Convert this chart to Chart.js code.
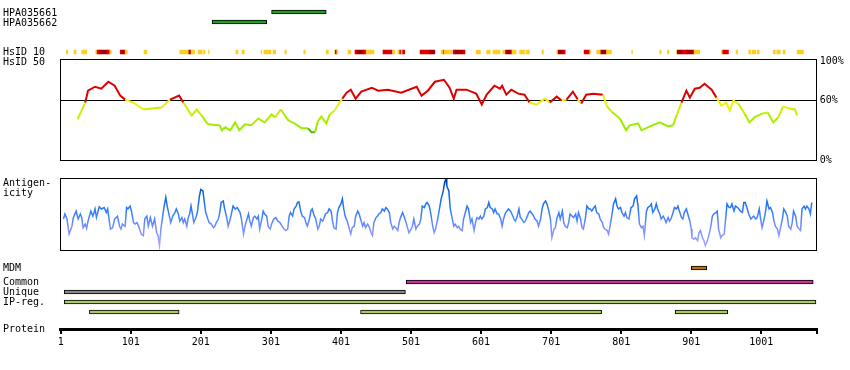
<!DOCTYPE html>
<html>
<head>
<meta charset="utf-8">
<script src="https://cdn.jsdelivr.net/npm/chart.js"></script>
<style>
body { margin: 0; background: #fff; }
#wrap { position: relative; width: 850px; height: 370px; overflow: hidden; }
#wrap canvas { position: absolute; left: 0; }
.lbl { position: absolute; left: 3px; font: 10px 'DejaVu Sans Mono', monospace; line-height: 10px; color: #000; white-space: nowrap; }
</style>
</head>
<body>
<div id="wrap">
  <canvas id="cHpa" width="850" height="20" style="top:7px"></canvas>
  <canvas id="cId10" width="850" height="10" style="top:47px"></canvas>
  <canvas id="cId50" width="850" height="120" style="top:50px"></canvas>
  <canvas id="cAnt" width="850" height="90" style="top:170px"></canvas>
  <canvas id="cMdm" width="850" height="12" style="top:262px"></canvas>
  <canvas id="cTracks" width="850" height="40" style="top:277px"></canvas>
  <canvas id="cAxis" width="850" height="50" style="top:320px"></canvas>

  <div class="lbl" style="top:8px">HPA035661</div>
  <div class="lbl" style="top:18px">HPA035662</div>
  <div class="lbl" style="top:47px">HsID 10</div>
  <div class="lbl" style="top:57px">HsID 50</div>
  <div class="lbl" style="top:178px">Antigen-<br>icity</div>
  <div class="lbl" style="top:263px">MDM</div>
  <div class="lbl" style="top:277px">Common</div>
  <div class="lbl" style="top:287px">Unique</div>
  <div class="lbl" style="top:297px">IP-reg.</div>
  <div class="lbl" style="top:324px">Protein</div>
</div>

<script>
// protein axis
const proteinLength = 1080;
const proteinTicks = [1, 101, 201, 301, 401, 501, 601, 701, 801, 901, 1001];

// antibodies (HPA) : start / end on the protein
const hpaNames = ['HPA035661', 'HPA035662'];
const hpaStart = [302, 217];
const hpaEnd = [380, 295];

// HsID 10 : segments, level 1 = yellow, 2 = red, 3 = dark red
const id10Start = [9, 20, 31, 51, 53, 57, 67, 71, 86, 89, 93, 120, 171, 184, 187, 197, 205, 212, 251, 260,
  287, 291, 304, 321, 348, 380, 392, 393, 395, 411, 421, 424, 433, 437, 461, 475, 482, 485, 487, 489,
  514, 528, 544, 547, 548, 561, 564, 575, 594, 609, 618, 632, 636, 645, 656, 665, 688, 709, 711, 718,
  748, 756, 766, 772, 780, 816, 856, 867, 880, 881, 888, 895, 905, 944, 946, 965, 983, 988, 995, 1018,
  1023, 1032, 1052];
const id10End = [11, 23, 38, 53, 57, 67, 71, 73, 89, 93, 96, 124, 184, 187, 192, 203, 207, 213, 254, 263,
  288, 301, 308, 323, 350, 383, 393, 395, 396, 415, 424, 433, 437, 448, 474, 478, 485, 487, 489, 492,
  528, 535, 547, 548, 559, 564, 575, 578, 600, 614, 628, 636, 645, 651, 663, 670, 690, 711, 718, 721,
  756, 757, 772, 780, 787, 817, 858, 869, 881, 888, 895, 905, 913, 946, 954, 967, 986, 993, 998, 1021,
  1028, 1035, 1061];
const id10Level = [1, 1, 1, 1, 2, 3, 2, 1, 2, 3, 1, 1, 1, 3, 1, 1, 1, 1, 1, 1,
  1, 1, 1, 1, 1, 1, 1, 2, 1, 1, 2, 3, 2, 1, 2, 1, 1, 2, 1, 2,
  2, 3, 1, 2, 1, 2, 3, 2, 1, 1, 1, 1, 3, 1, 1, 1, 1, 1, 3, 2,
  2, 1, 1, 3, 1, 1, 1, 1, 1, 3, 2, 3, 1, 1, 2, 1, 1, 1, 1, 1,
  1, 1, 1];

// HsID 50 (%)
const id50Pos = [25, 36, 40, 50, 59, 69, 78, 86, 93, 105, 119, 131, 145, 157, 170, 176, 188, 195, 202, 211,
  228, 231, 236, 243, 250, 256, 264, 273, 283, 292, 302, 307, 315, 326, 335, 345, 354, 359, 364, 368,
  373, 380, 385, 392, 399, 403, 409, 415, 422, 430, 445, 454, 468, 487, 509, 516, 525, 535, 548, 556,
  562, 566, 580, 587, 594, 602, 609, 620, 628, 631, 637, 644, 654, 663, 670, 680, 692, 699, 709, 716,
  723, 732, 739, 744, 751, 761, 775, 780, 787, 799, 808, 813, 825, 830, 842, 856, 868, 875, 880, 887,
  894, 899, 906, 913, 920, 930, 937, 944, 951, 956, 961, 968, 977, 984, 991, 1003, 1010, 1018, 1025, 1032,
  1041, 1049, 1052];
const id50Val = [41, 58, 70, 74, 72, 79, 75, 65, 61, 58, 51, 52, 53, 61, 65, 58, 45, 51, 45, 36,
  35, 30, 33, 30, 38, 30, 36, 35, 42, 38, 46, 43, 51, 40, 37, 32, 32, 28, 28, 39,
  44, 37, 46, 50, 58, 62, 68, 71, 62, 69, 73, 70, 71, 68, 74, 65, 70, 79, 81, 73,
  62, 71, 71, 69, 67, 56, 66, 75, 72, 75, 66, 71, 67, 66, 58, 56, 62, 58, 64, 60,
  61, 69, 61, 57, 66, 67, 66, 55, 49, 42, 30, 35, 37, 30, 34, 38, 34, 35, 45, 58,
  70, 63, 72, 73, 77, 71, 63, 55, 58, 50, 60, 57, 47, 38, 43, 47, 48, 38, 43, 54,
  52, 51, 45];
const id50Ticks = [0, 60, 100];

// antigenicity (relative scale 0-100)
const antPos = [5, 7, 10, 13, 17, 19, 23, 26, 29, 31, 33, 36, 38, 40, 44, 47, 50, 52, 56, 59,
  63, 66, 68, 70, 72, 75, 78, 82, 85, 87, 89, 93, 95, 97, 100, 102, 105, 107, 110, 113,
  116, 119, 121, 124, 126, 129, 132, 135, 138, 140, 142, 144, 146, 148, 151, 153, 155, 158, 161, 164,
  166, 169, 171, 174, 176, 178, 181, 183, 185, 187, 189, 191, 194, 196, 199, 201, 204, 206, 208, 211,
  213, 216, 219, 221, 223, 226, 228, 230, 233, 235, 238, 240, 243, 245, 247, 250, 253, 257, 259, 262,
  264, 266, 269,
  271, 273, 276, 278, 281, 283, 285, 288, 290, 292, 295, 297, 300, 302, 305, 308, 311, 314, 317, 320,
  322, 325, 327, 329, 332, 334, 337, 339, 341, 344, 346, 349, 351, 353, 356, 358, 360, 363, 365, 368,
  370, 372, 375, 377, 379, 382, 384, 387, 389, 391, 394, 396, 398, 401, 403, 405, 407, 410, 412, 415,
  417, 420, 422, 425, 427, 429, 432, 434, 436, 439, 441, 444, 446, 448, 451, 453, 455, 458, 460, 463,
  465, 467, 470, 472, 475, 477, 479, 482, 484, 486, 489, 491, 494, 496, 498, 501, 503, 505, 508, 510,
  513, 515, 517, 520, 522, 524, 527, 529, 532, 534, 536, 539, 541,
  544, 547, 549, 551, 552, 555, 557, 560, 562, 564, 567, 569, 571, 574, 576, 579, 581, 583, 586, 588,
  591, 593, 595, 598, 600, 602, 605, 607, 610, 612, 614, 617, 619, 621, 624, 626, 629, 631, 633, 636,
  638, 640, 643, 645, 648, 650, 652, 655, 657, 659, 662, 664, 667, 669, 671, 674, 676, 678, 681, 683,
  686, 688, 690, 693, 695, 697, 700, 702, 705, 707, 709, 712, 714, 717, 719, 721, 724, 726, 728, 731,
  733, 736, 738, 740, 743, 745, 747, 750, 752, 755, 757, 759, 762, 764, 766, 769, 771, 774, 776, 778,
  781, 783, 785, 788, 790, 793, 795, 797, 800, 802, 805, 807, 809, 812,
  815, 818, 820, 823, 825, 827, 830, 832, 834, 837, 839, 842, 844, 846, 849, 851, 853, 856, 858, 861,
  863, 865, 868, 870, 872, 875, 877, 880, 882, 884, 887, 889, 891, 894, 896, 899, 901, 902, 905, 907,
  910, 912, 914, 917, 919, 921, 924, 926, 929, 931, 933, 936, 938, 940, 943, 945, 948, 950, 952, 955,
  957, 959, 962, 964, 967, 969, 971, 974, 976, 978, 981, 983, 986, 988, 990, 993, 995, 998, 1000, 1002,
  1005, 1007, 1009, 1012, 1014, 1017, 1019, 1021, 1024, 1026, 1028, 1031, 1033, 1036, 1038, 1040, 1043, 1045, 1047, 1050,
  1052, 1055, 1057, 1059, 1062, 1064, 1066, 1069, 1071, 1073];
const antVal = [43, 50, 43, 22, 33, 45, 54, 43, 50, 45, 31, 36, 30, 40, 54, 47, 57, 45, 60, 57,
  59, 52, 57, 43, 29, 31, 43, 47, 33, 29, 36, 33, 59, 57, 61, 54, 38, 36, 38, 31,
  22, 20, 43, 47, 33, 45, 33, 43, 24, 20, 6, 29, 43, 57, 73, 61, 52, 38, 47, 52,
  57, 50, 40, 45, 38, 43, 33, 45, 50, 61, 50, 38, 45, 52, 75, 84, 82, 66, 52, 43,
  38, 36, 31, 33, 38, 43, 52, 66, 68, 57, 45, 33, 43, 52, 61, 57, 59, 52, 43, 22,
  33, 40, 50,
  40, 33, 45, 47, 43, 47, 29, 43, 54, 50, 47, 33, 29, 36, 43, 45, 40, 38, 33, 29,
  27, 29, 47, 52, 47, 57, 61, 66, 67, 52, 47, 45, 38, 33, 43, 54, 57, 47, 43, 29,
  33, 43, 40, 45, 50, 52, 57, 54, 40, 31, 29, 52, 59, 64, 71, 57, 47, 40, 33, 22,
  31, 33, 47, 54, 50, 43, 33, 38, 31, 36, 33, 24, 20, 38, 45, 47, 50, 52, 57, 54,
  59, 57, 52, 38, 29, 33, 31, 27, 38, 45, 52, 47, 38, 31, 24, 29, 33, 43, 29, 33,
  36, 43, 61, 59, 64, 66, 61, 52, 33, 24, 29, 43, 54,
  71, 82, 94, 99, 89, 82, 57, 43, 33, 36, 31, 33, 29, 27, 43, 54, 61, 57, 38, 43,
  27, 38, 45, 43, 47, 43, 47, 57, 59, 66, 59, 57, 52, 57, 50, 50, 43, 33, 43, 52,
  54, 57, 54, 50, 43, 40, 45, 57, 45, 43, 38, 40, 47, 52, 54, 50, 47, 43, 40, 33,
  43, 57, 64, 68, 64, 57, 43, 17, 29, 31, 43, 52, 43, 54, 38, 33, 31, 38, 50, 47,
  45, 50, 40, 52, 43, 31, 29, 45, 61, 57, 57, 54, 59, 61, 52, 50, 43, 38, 31, 29,
  27, 22, 33, 50, 64, 71, 61, 57, 59, 52, 47, 52, 45, 43,
  59, 61, 71, 75, 61, 36, 31, 33, 20, 54, 59, 61, 64, 52, 57, 64, 57, 50, 43, 47,
  43, 38, 45, 40, 43, 52, 59, 57, 61, 54, 45, 43, 52, 57, 50, 40, 29, 17, 15, 17,
  13, 24, 27, 17, 13, 6, 13, 20, 33, 47, 50, 52, 54, 29, 17, 20, 22, 43, 64, 59,
  59, 64, 54, 61, 59, 57, 54, 52, 66, 66, 57, 50, 43, 45, 47, 43, 45, 57, 43, 31,
  43, 54, 68, 57, 59, 52, 40, 33, 29, 20, 29, 43, 57, 52, 47, 33, 29, 38, 54, 47,
  33, 29, 27, 57, 61, 57, 61, 57, 50, 66];

// MDM
const mdmStart = [901];
const mdmEnd = [923];

// Common / Unique / IP-reg. rows
const trackRows = ['Common', 'Unique', 'IP-reg.', 'IP-reg. 2'];
const trackRow = [0, 1, 2, 3, 3, 3];
const trackStart = [494, 6, 6, 42, 429, 878];
const trackEnd = [1075, 493, 1079, 170, 773, 953];

// ---------------------------------------------------------------

Chart.defaults.font.family = "'DejaVu Sans Mono', monospace";
Chart.defaults.font.size = 10;
Chart.defaults.color = '#000';

const LEFT = 60.7;
const RIGHT = 33.3;
const levelColors = { 1: '#ffcc22', 2: '#dd0000', 3: '#a80000' };
const trackColors = ['#cc3399', '#888888', '#a8cc60', '#a8cc60'];

// black box round the plot area
const frame = {
  id: 'frame',
  afterDraw(chart) {
    const a = chart.chartArea;
    const c = chart.ctx;
    const l = Math.floor(a.left), t = Math.floor(a.top);
    c.save();
    c.strokeStyle = '#000';
    c.lineWidth = 1;
    c.strokeRect(l + 0.5, t + 0.5, Math.floor(a.right) - l, Math.floor(a.bottom) - t);
    c.restore();
  }
};

function baseOptions(padding) {
  return {
    responsive: false,
    animation: false,
    devicePixelRatio: 1,
    layout: { padding: padding },
    plugins: { legend: { display: false }, tooltip: { enabled: false } }
  };
}

// horizontal floating bars on the protein scale
function barTrack(id, rows, rowIdx, starts, ends, colors, border) {
  const opts = baseOptions({ left: LEFT, right: RIGHT, top: 0, bottom: 0 });
  opts.indexAxis = 'y';
  opts.scales = {
    x: { type: 'linear', min: 1, max: proteinLength, display: false },
    y: { display: false }
  };
  return new Chart(document.getElementById(id), {
    type: 'bar',
    data: {
      labels: rows,
      datasets: [{
        data: starts.map((s, i) => ({ x: [s, ends[i]], y: rows[rowIdx[i]] })),
        backgroundColor: colors,
        borderColor: '#000',
        borderWidth: border,
        borderSkipped: false,
        barThickness: 4
      }]
    },
    options: opts
  });
}

barTrack('cHpa', hpaNames, [0, 1], hpaStart, hpaEnd, '#1fa01f', 1);
barTrack('cId10', ['HsID 10'], id10Start.map(() => 0), id10Start, id10End,
  id10Level.map(l => levelColors[l]), 0);
barTrack('cMdm', ['MDM'], [0], mdmStart, mdmEnd, '#c07000', 1);
barTrack('cTracks', trackRows, trackRow, trackStart, trackEnd,
  trackRow.map(r => trackColors[r]), 1);

// HsID 50 curve, coloured by value
function id50Color(v) {
  if (v >= 61) return '#dd0000';
  if (v >= 53) return '#eeee11';
  if (v >= 46) return '#ccee00';
  if (v >= 38) return '#aaee00';
  if (v >= 31) return '#99ee00';
  return '#55bb00';
}

const id50Opts = baseOptions({ left: LEFT, right: 0, top: 8, bottom: 10 });
id50Opts.scales = {
  x: { type: 'linear', min: 1, max: proteinLength, display: false },
  y: {
    position: 'right', min: 0, max: 102,
    afterBuildTicks: s => { s.ticks = id50Ticks.map(v => ({ value: v })); },
    afterFit: s => { s.width = RIGHT; },
    ticks: { callback: v => v + '%', padding: 3 },
    grid: { drawTicks: false, color: c => (c.tick && c.tick.value === 60) ? '#000' : 'rgba(0,0,0,0)' },
    border: { display: false }
  }
};
new Chart(document.getElementById('cId50'), {
  type: 'line',
  data: {
    datasets: [{
      data: id50Pos.map((p, i) => ({ x: p, y: id50Val[i] })),
      borderWidth: 2,
      pointRadius: 0,
      segment: { borderColor: s => id50Color((s.p0.parsed.y + s.p1.parsed.y) / 2) }
    }]
  },
  options: id50Opts,
  plugins: [frame]
});

// antigenicity curve, darker blue when higher
const antOpts = baseOptions({ left: LEFT, right: RIGHT, top: 8, bottom: 10 });
antOpts.scales = {
  x: { type: 'linear', min: 1, max: proteinLength, display: false },
  y: { min: 0, max: 100, display: false }
};
new Chart(document.getElementById('cAnt'), {
  type: 'line',
  data: {
    datasets: [{
      data: antPos.map((p, i) => ({ x: p, y: antVal[i] })),
      borderWidth: 1.5,
      pointRadius: 0,
      borderColor: ctx => {
        const a = ctx.chart.chartArea;
        if (!a) return '#3377ff';
        const g = ctx.chart.ctx.createLinearGradient(0, a.bottom, 0, a.top);
        g.addColorStop(0, '#b4a8ff');
        g.addColorStop(0.3, '#7a90ff');
        g.addColorStop(0.5, '#3a80ff');
        g.addColorStop(0.75, '#0a66f0');
        g.addColorStop(1, '#003c96');
        return g;
      }
    }]
  },
  options: antOpts,
  plugins: [frame]
});

// protein position axis
const axisOpts = baseOptions({ left: LEFT, right: RIGHT, top: 0, bottom: 0 });
axisOpts.scales = {
  x: {
    type: 'linear', min: 1, max: proteinLength, position: 'bottom',
    afterBuildTicks: s => { s.ticks = proteinTicks.concat([proteinLength]).map(v => ({ value: v })); },
    afterFit: s => { s.height = 41; },
    ticks: { callback: v => proteinTicks.includes(v) ? String(v) : '', autoSkip: false, maxRotation: 0, padding: 2 },
    grid: { drawOnChartArea: false, tickLength: 5, color: '#000', lineWidth: 2 },
    border: { color: '#000', width: 3 }
  },
  y: { display: false }
};
new Chart(document.getElementById('cAxis'), {
  type: 'scatter',
  data: { datasets: [{ data: [] }] },
  options: axisOpts
});
</script>
</body>
</html>
